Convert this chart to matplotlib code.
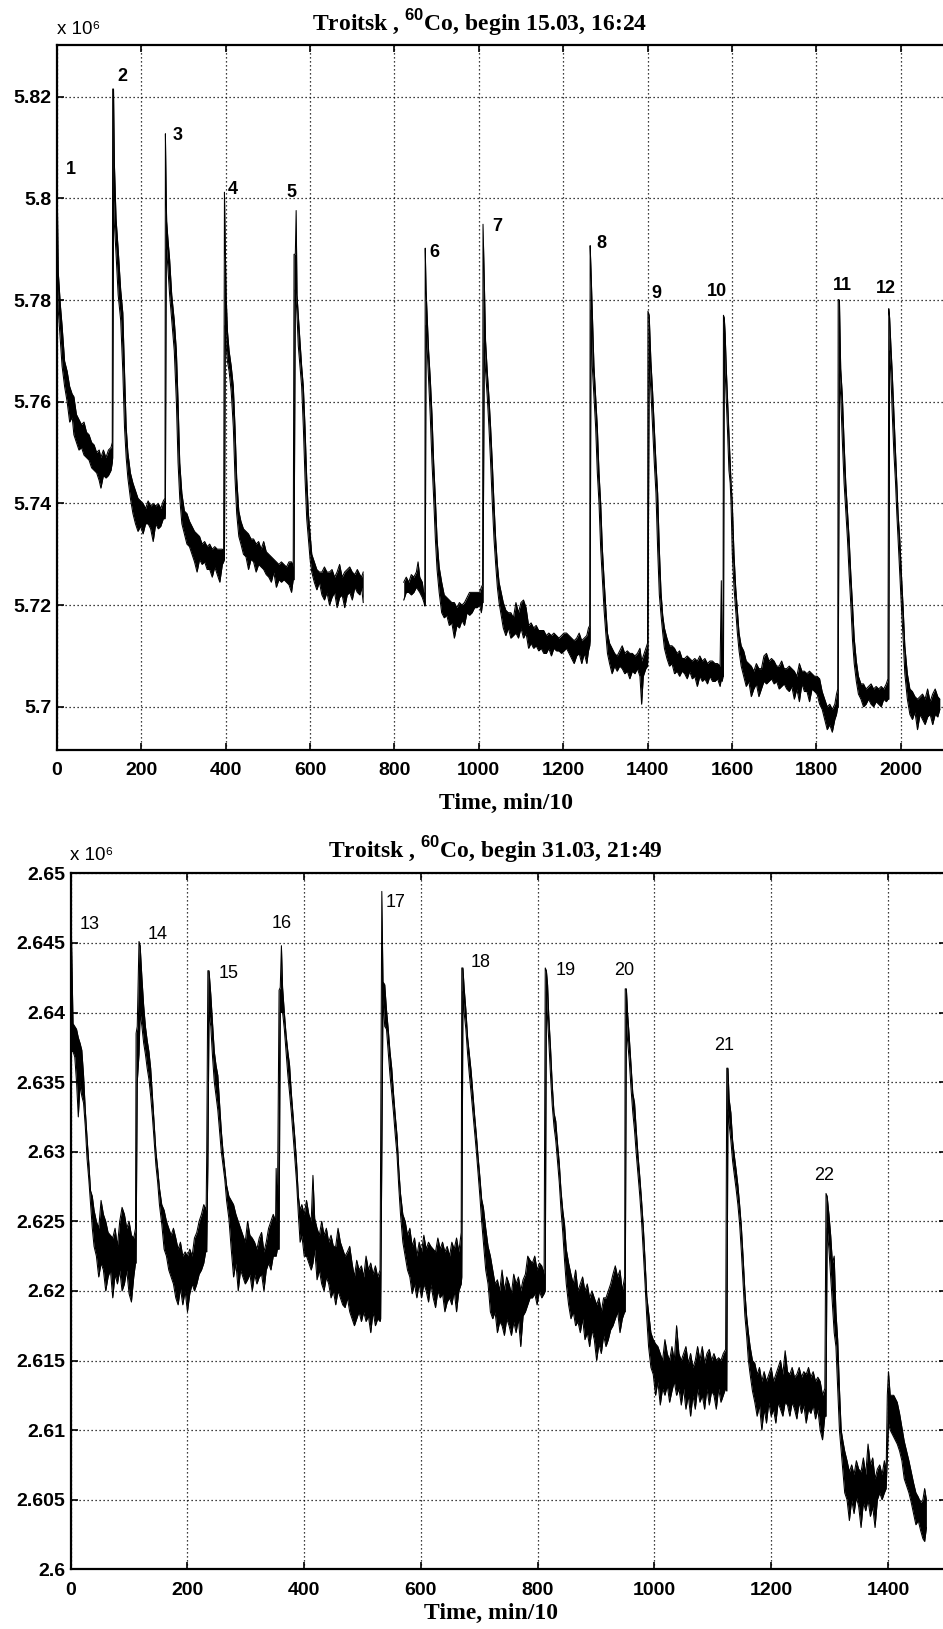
import numpy as np
import matplotlib
matplotlib.use("Agg")
import matplotlib.pyplot as plt

plt.rcParams["mathtext.fontset"] = "custom"
plt.rcParams["mathtext.rm"] = "Liberation Serif"
plt.rcParams["mathtext.bf"] = "Liberation Serif:bold"
plt.rcParams["mathtext.sf"] = "Liberation Sans:bold"

# ---------------- data (values in units of 10^6) ----------------
# each entry: (time, lower edge of noisy trace, upper edge of noisy trace)
top_trace_a = [
    (0, 5.785, 5.805), (3, 5.778, 5.7855), (8, 5.772, 5.779), (12, 5.767, 5.775),
    (18, 5.763, 5.768), (24, 5.760, 5.766), (30, 5.756, 5.763), (36, 5.757, 5.7615),
    (40, 5.7535, 5.761), (46, 5.752, 5.7575), (52, 5.7505, 5.7565), (58, 5.751, 5.7555),
    (64, 5.7495, 5.756), (70, 5.749, 5.754), (76, 5.7485, 5.7535), (82, 5.747, 5.752),
    (88, 5.7465, 5.7515), (94, 5.746, 5.750), (100, 5.7445, 5.7505), (104, 5.743, 5.749),
    (110, 5.7455, 5.7505), (116, 5.745, 5.749), (122, 5.7455, 5.7505), (128, 5.7465, 5.751),
    (131, 5.748, 5.752),
    (132, 5.749, 5.8215), (134, 5.800, 5.8215), (136, 5.795, 5.807), (140, 5.789, 5.796),
    (145, 5.781, 5.790), (151, 5.776, 5.782), (156, 5.766, 5.7775), (160, 5.755, 5.766),
    (164, 5.749, 5.755), (168, 5.745, 5.750), (174, 5.741, 5.746), (180, 5.738, 5.744),
    (186, 5.736, 5.7425), (192, 5.7345, 5.741), (198, 5.7355, 5.7405), (204, 5.734, 5.740),
    (210, 5.736, 5.739), (216, 5.736, 5.7405), (222, 5.735, 5.7395), (228, 5.7325, 5.740),
    (234, 5.736, 5.7395), (240, 5.735, 5.740), (246, 5.7355, 5.739), (252, 5.737, 5.7405),
    (256, 5.737, 5.741),
    (257, 5.738, 5.8127), (259, 5.790, 5.800), (260, 5.790, 5.7955), (263, 5.786, 5.792),
    (267, 5.781, 5.788), (272, 5.776, 5.781), (278, 5.770, 5.776), (283, 5.760, 5.770),
    (287, 5.748, 5.760), (291, 5.741, 5.748), (296, 5.736, 5.742), (302, 5.734, 5.7385),
    (308, 5.732, 5.738), (314, 5.7315, 5.7365), (320, 5.730, 5.7355), (326, 5.7285, 5.7345),
    (332, 5.7265, 5.734), (338, 5.729, 5.7335), (344, 5.728, 5.732), (350, 5.7285, 5.7325),
    (356, 5.727, 5.7315), (362, 5.727, 5.732), (368, 5.7255, 5.731), (374, 5.7275, 5.7315),
    (380, 5.726, 5.731), (386, 5.7245, 5.731), (392, 5.728, 5.731), (395, 5.7285, 5.7305),
    (397, 5.729, 5.8012), (399, 5.775, 5.790), (401, 5.771, 5.781), (404, 5.768, 5.774),
    (408, 5.766, 5.770), (413, 5.762, 5.767), (418, 5.755, 5.763), (422, 5.745, 5.755),
    (426, 5.738, 5.745), (431, 5.7335, 5.7385), (436, 5.732, 5.7365), (442, 5.730, 5.735),
    (448, 5.7295, 5.7345), (454, 5.727, 5.734), (460, 5.729, 5.733), (466, 5.7285, 5.733),
    (472, 5.7265, 5.732), (478, 5.728, 5.7325), (484, 5.7275, 5.731), (490, 5.727, 5.7325),
    (496, 5.726, 5.7305), (502, 5.7255, 5.730), (508, 5.7245, 5.7295), (514, 5.7265, 5.729),
    (520, 5.7235, 5.7285), (526, 5.725, 5.728), (532, 5.7245, 5.7285), (538, 5.725, 5.728),
    (544, 5.7245, 5.7275), (550, 5.724, 5.7285), (556, 5.7225, 5.7285), (560, 5.725, 5.7275),
    (562, 5.725, 5.789), (565, 5.782, 5.789), (567, 5.780, 5.7976), (569, 5.777, 5.781),
    (572, 5.771, 5.777), (576, 5.767, 5.772), (580, 5.763, 5.767), (584, 5.755, 5.763),
    (588, 5.745, 5.755), (592, 5.737, 5.745), (596, 5.733, 5.738), (600, 5.729, 5.734),
    (604, 5.7265, 5.730), (610, 5.7245, 5.7285), (616, 5.723, 5.727), (622, 5.7245, 5.7265),
    (628, 5.722, 5.7265), (634, 5.721, 5.7275), (640, 5.7225, 5.7265), (646, 5.720, 5.7265),
    (652, 5.7215, 5.727), (658, 5.7225, 5.7255), (664, 5.7195, 5.7265), (670, 5.7215, 5.728),
    (676, 5.722, 5.7255), (682, 5.7195, 5.7265), (688, 5.722, 5.727), (694, 5.7225, 5.7275),
    (700, 5.721, 5.7265), (706, 5.7235, 5.726), (712, 5.7225, 5.727), (718, 5.722, 5.726),
    (722, 5.7235, 5.7255), (726, 5.7205, 5.7265),
]

top_trace_b = [
    (822, 5.721, 5.7245), (828, 5.7225, 5.7255), (834, 5.7225, 5.7245), (840, 5.722, 5.726),
    (846, 5.7225, 5.7255), (852, 5.7235, 5.7265), (856, 5.723, 5.7285), (860, 5.7225, 5.7255),
    (866, 5.7215, 5.7245), (870, 5.7205, 5.722), (872, 5.7198, 5.7205),
    (873, 5.720, 5.7902), (875, 5.775, 5.782), (878, 5.7695, 5.776), (881, 5.764, 5.770),
    (885, 5.757, 5.7645), (889, 5.748, 5.7575), (893, 5.741, 5.748), (897, 5.733, 5.741),
    (901, 5.727, 5.733), (906, 5.7225, 5.7275), (912, 5.7185, 5.7245), (918, 5.7175, 5.722),
    (924, 5.718, 5.7215), (930, 5.716, 5.721), (936, 5.7165, 5.7205), (942, 5.7135, 5.7205),
    (948, 5.716, 5.7195), (954, 5.7155, 5.7205), (960, 5.717, 5.720), (966, 5.716, 5.7205),
    (972, 5.7185, 5.7215), (978, 5.718, 5.7225), (984, 5.7185, 5.7225), (990, 5.7195, 5.7225),
    (996, 5.7195, 5.7225), (1002, 5.720, 5.7225), (1006, 5.7185, 5.7235), (1009, 5.7205, 5.724),
    (1010, 5.7205, 5.7949), (1013, 5.7715, 5.784), (1016, 5.766, 5.772), (1020, 5.761, 5.766),
    (1024, 5.755, 5.761), (1028, 5.748, 5.755), (1032, 5.740, 5.748), (1036, 5.733, 5.740),
    (1040, 5.728, 5.733), (1044, 5.7235, 5.728), (1048, 5.7205, 5.7245), (1053, 5.718, 5.7225),
    (1058, 5.7155, 5.7205), (1064, 5.714, 5.719), (1070, 5.7155, 5.7185), (1076, 5.7135, 5.7185),
    (1082, 5.714, 5.7175), (1088, 5.7145, 5.7205), (1094, 5.7135, 5.7185), (1100, 5.7155, 5.7205),
    (1106, 5.7135, 5.721), (1112, 5.7145, 5.7195), (1118, 5.7115, 5.716), (1124, 5.7125, 5.7165),
    (1130, 5.7115, 5.7155), (1136, 5.712, 5.716), (1142, 5.711, 5.715), (1148, 5.7115, 5.715),
    (1154, 5.7105, 5.715), (1160, 5.7105, 5.714), (1166, 5.7115, 5.7145), (1172, 5.710, 5.714),
    (1178, 5.7115, 5.7145), (1184, 5.711, 5.714), (1190, 5.711, 5.7135), (1196, 5.7105, 5.714),
    (1202, 5.711, 5.7145), (1208, 5.7115, 5.7145), (1214, 5.7105, 5.714), (1220, 5.7095, 5.7135),
    (1226, 5.7085, 5.713), (1232, 5.710, 5.7135), (1238, 5.7105, 5.7145), (1244, 5.7085, 5.713),
    (1250, 5.7105, 5.7135), (1256, 5.7085, 5.714), (1260, 5.711, 5.7155), (1263, 5.712, 5.716),
    (1264, 5.713, 5.7907), (1266, 5.778, 5.786), (1269, 5.767, 5.778), (1273, 5.761, 5.767),
    (1277, 5.755, 5.761), (1281, 5.746, 5.755), (1285, 5.740, 5.746), (1289, 5.731, 5.740),
    (1293, 5.725, 5.731), (1297, 5.719, 5.725), (1301, 5.7145, 5.7195), (1305, 5.7105, 5.7145),
    (1310, 5.7085, 5.7125), (1316, 5.7065, 5.7115), (1322, 5.708, 5.7105), (1328, 5.707, 5.710),
    (1334, 5.708, 5.711), (1340, 5.7075, 5.712), (1346, 5.7065, 5.7105), (1352, 5.707, 5.711),
    (1358, 5.7055, 5.7105), (1364, 5.707, 5.7105), (1370, 5.7065, 5.710), (1376, 5.7075, 5.7105),
    (1382, 5.706, 5.7115), (1386, 5.7005, 5.709), (1390, 5.706, 5.710), (1396, 5.7075, 5.7115),
    (1400, 5.708, 5.7125),
    (1401, 5.710, 5.7778), (1404, 5.768, 5.777), (1408, 5.762, 5.768), (1412, 5.755, 5.762),
    (1416, 5.748, 5.755), (1420, 5.742, 5.748), (1424, 5.731, 5.742), (1428, 5.722, 5.731),
    (1432, 5.718, 5.7225), (1436, 5.7145, 5.718), (1440, 5.7115, 5.7155), (1446, 5.7095, 5.7135),
    (1452, 5.708, 5.712), (1458, 5.7085, 5.712), (1464, 5.7065, 5.7115), (1470, 5.707, 5.7105),
    (1476, 5.706, 5.711), (1482, 5.707, 5.7095), (1488, 5.7065, 5.7095), (1494, 5.7055, 5.710),
    (1500, 5.707, 5.7095), (1506, 5.7055, 5.709), (1512, 5.706, 5.7095), (1518, 5.704, 5.709),
    (1524, 5.706, 5.710), (1530, 5.705, 5.709), (1536, 5.7055, 5.7095), (1542, 5.7045, 5.7085),
    (1548, 5.706, 5.709), (1554, 5.705, 5.709), (1560, 5.705, 5.7085), (1566, 5.7055, 5.7085),
    (1572, 5.704, 5.708), (1575, 5.7055, 5.7248), (1577, 5.705, 5.7075), (1579, 5.706, 5.708),
    (1580, 5.706, 5.777), (1582, 5.7735, 5.7765), (1584, 5.766, 5.7735), (1587, 5.760, 5.766),
    (1590, 5.7535, 5.760), (1593, 5.7465, 5.7535), (1596, 5.744, 5.748), (1598, 5.740, 5.744),
    (1601, 5.730, 5.740), (1605, 5.7235, 5.730), (1609, 5.719, 5.7235), (1613, 5.7145, 5.719),
    (1617, 5.711, 5.7145), (1622, 5.708, 5.712), (1628, 5.706, 5.711), (1634, 5.704, 5.709),
    (1640, 5.705, 5.7085), (1646, 5.702, 5.708), (1652, 5.7035, 5.707), (1658, 5.7045, 5.7085),
    (1664, 5.702, 5.7075), (1670, 5.7035, 5.7075), (1676, 5.705, 5.710), (1682, 5.7045, 5.7105),
    (1688, 5.705, 5.709), (1694, 5.7055, 5.7095), (1700, 5.7045, 5.709), (1706, 5.705, 5.708),
    (1712, 5.7035, 5.708), (1718, 5.704, 5.709), (1724, 5.7045, 5.7075), (1730, 5.7035, 5.7075),
    (1736, 5.703, 5.708), (1742, 5.704, 5.7075), (1748, 5.7015, 5.707), (1754, 5.7035, 5.706),
    (1760, 5.701, 5.7085), (1766, 5.7045, 5.707), (1772, 5.703, 5.707), (1778, 5.703, 5.7065),
    (1784, 5.701, 5.707), (1790, 5.7035, 5.7065), (1796, 5.703, 5.706), (1802, 5.7025, 5.706),
    (1808, 5.7005, 5.7055), (1814, 5.6995, 5.703), (1820, 5.6975, 5.7015), (1826, 5.6955, 5.700),
    (1832, 5.6965, 5.7005), (1838, 5.695, 5.6995), (1844, 5.6975, 5.7005), (1848, 5.6985, 5.7025),
    (1851, 5.700, 5.7035),
    (1852, 5.700, 5.7801), (1855, 5.7655, 5.780), (1858, 5.761, 5.7665), (1862, 5.752, 5.761),
    (1866, 5.744, 5.752), (1870, 5.7385, 5.744), (1874, 5.733, 5.7385), (1878, 5.726, 5.733),
    (1882, 5.720, 5.726), (1886, 5.713, 5.720), (1890, 5.7085, 5.7135), (1895, 5.705, 5.709),
    (1900, 5.7025, 5.706), (1906, 5.7015, 5.7045), (1912, 5.700, 5.7045), (1918, 5.7005, 5.7035),
    (1924, 5.7015, 5.704), (1930, 5.7005, 5.7045), (1936, 5.700, 5.7035), (1942, 5.701, 5.704),
    (1948, 5.7005, 5.7035), (1954, 5.700, 5.704), (1960, 5.7015, 5.7035), (1966, 5.701, 5.7045),
    (1970, 5.7015, 5.7055),
    (1972, 5.7015, 5.7783), (1974, 5.770, 5.7765), (1977, 5.7655, 5.771), (1980, 5.758, 5.766),
    (1984, 5.750, 5.758), (1988, 5.744, 5.750), (1991, 5.738, 5.744), (1994, 5.733, 5.738),
    (1998, 5.726, 5.733), (2002, 5.7195, 5.726), (2006, 5.7135, 5.7195), (2010, 5.7065, 5.712),
    (2016, 5.7015, 5.7065), (2022, 5.6985, 5.7035), (2028, 5.6975, 5.703), (2034, 5.699, 5.702),
    (2040, 5.6955, 5.7015), (2046, 5.6985, 5.702), (2052, 5.6975, 5.7025), (2058, 5.6965, 5.7015),
    (2064, 5.698, 5.7035), (2070, 5.6985, 5.701), (2076, 5.6965, 5.7025), (2082, 5.6985, 5.7035),
    (2088, 5.698, 5.702), (2093, 5.6995, 5.7015),
]

bottom_trace = [
    (0, 2.6355, 2.6462), (1, 2.6372, 2.6462), (4, 2.6372, 2.6392), (7, 2.6368, 2.6390),
    (10, 2.6350, 2.6388), (13, 2.6325, 2.6382), (16, 2.6348, 2.6378), (19, 2.6340, 2.6373),
    (22, 2.6335, 2.6355), (25, 2.6318, 2.6330), (28, 2.6295, 2.6310), (31, 2.6280, 2.6292),
    (34, 2.6262, 2.6272), (37, 2.6245, 2.6268), (40, 2.6232, 2.6258), (44, 2.6225, 2.6250),
    (48, 2.6210, 2.6245), (52, 2.6220, 2.6265), (56, 2.6215, 2.6255), (60, 2.6200, 2.6250),
    (64, 2.6210, 2.6242), (68, 2.6215, 2.6240), (72, 2.6195, 2.6238), (76, 2.6212, 2.6245),
    (80, 2.6205, 2.6232), (84, 2.6215, 2.6250), (88, 2.6200, 2.6260), (92, 2.6205, 2.6255),
    (96, 2.6215, 2.6245), (100, 2.6198, 2.6250), (104, 2.6192, 2.6240), (108, 2.6210, 2.6238),
    (111, 2.6220, 2.6245),
    (112, 2.6220, 2.6385), (114, 2.6350, 2.6390), (117, 2.6370, 2.6451), (119, 2.6400, 2.6448),
    (122, 2.6390, 2.6425), (125, 2.6378, 2.6405), (128, 2.6370, 2.6390), (131, 2.6360, 2.6380),
    (134, 2.6352, 2.6372), (137, 2.6340, 2.6360), (140, 2.6325, 2.6340), (143, 2.6308, 2.6320),
    (146, 2.6290, 2.6300), (149, 2.6278, 2.6288), (152, 2.6262, 2.6274), (156, 2.6248, 2.6262),
    (160, 2.6230, 2.6258), (164, 2.6225, 2.6250), (168, 2.6215, 2.6245), (172, 2.6210, 2.6240),
    (176, 2.6205, 2.6245), (180, 2.6195, 2.6238), (184, 2.6190, 2.6230), (188, 2.6202, 2.6235),
    (192, 2.6190, 2.6225), (196, 2.6200, 2.6228), (200, 2.6185, 2.6225), (204, 2.6198, 2.6230),
    (208, 2.6205, 2.6225), (212, 2.6200, 2.6238), (216, 2.6205, 2.6242), (220, 2.6212, 2.6250),
    (224, 2.6215, 2.6255), (228, 2.6220, 2.6262), (232, 2.6230, 2.6258),
    (233, 2.6228, 2.6297), (235, 2.6290, 2.6430), (237, 2.6400, 2.6430), (240, 2.6390, 2.6413),
    (243, 2.6368, 2.6392), (246, 2.6350, 2.6372), (249, 2.6340, 2.6362), (252, 2.6330, 2.6355),
    (255, 2.6315, 2.6335), (258, 2.6300, 2.6315), (261, 2.6290, 2.6300), (264, 2.6280, 2.6288),
    (267, 2.6265, 2.6276), (271, 2.6252, 2.6268), (275, 2.6230, 2.6265), (279, 2.6210, 2.6262),
    (283, 2.6220, 2.6255), (287, 2.6200, 2.6250), (291, 2.6215, 2.6245), (295, 2.6210, 2.6240),
    (299, 2.6205, 2.6235), (303, 2.6208, 2.6250), (307, 2.6212, 2.6240), (311, 2.6200, 2.6238),
    (315, 2.6212, 2.6235), (319, 2.6205, 2.6230), (323, 2.6210, 2.6238), (327, 2.6212, 2.6242),
    (331, 2.6200, 2.6228), (335, 2.6215, 2.6235), (339, 2.6220, 2.6245), (343, 2.6215, 2.6250),
    (347, 2.6225, 2.6255), (351, 2.6225, 2.6250),
    (352, 2.6225, 2.6288), (354, 2.6230, 2.6250), (357, 2.6230, 2.6416), (359, 2.6400, 2.6418),
    (361, 2.6400, 2.6448), (363, 2.6400, 2.6418), (366, 2.6388, 2.6400), (369, 2.6372, 2.6384),
    (372, 2.6355, 2.6372), (375, 2.6342, 2.6362), (378, 2.6328, 2.6342), (381, 2.6312, 2.6326),
    (384, 2.6295, 2.6310), (387, 2.6278, 2.6292), (390, 2.6255, 2.6268), (393, 2.6235, 2.6258),
    (396, 2.6240, 2.6262), (400, 2.6225, 2.6255), (404, 2.6225, 2.6265), (408, 2.6220, 2.6255),
    (412, 2.6215, 2.6250), (415, 2.6220, 2.6283), (418, 2.6230, 2.6252), (422, 2.6208, 2.6245),
    (426, 2.6215, 2.6240), (430, 2.6205, 2.6250), (434, 2.6200, 2.6240), (438, 2.6210, 2.6245),
    (442, 2.6205, 2.6235), (446, 2.6195, 2.6240), (450, 2.6200, 2.6232), (454, 2.6190, 2.6232),
    (458, 2.6200, 2.6245), (462, 2.6195, 2.6235), (466, 2.6190, 2.6230), (470, 2.6188, 2.6225),
    (474, 2.6195, 2.6228), (478, 2.6185, 2.6232), (482, 2.6180, 2.6220), (486, 2.6175, 2.6210),
    (490, 2.6180, 2.6222), (494, 2.6185, 2.6215), (498, 2.6178, 2.6218), (502, 2.6185, 2.6210),
    (506, 2.6178, 2.6225), (510, 2.6182, 2.6215), (514, 2.6170, 2.6220), (518, 2.6185, 2.6212),
    (522, 2.6175, 2.6218), (526, 2.6180, 2.6210), (530, 2.6178, 2.6215),
    (531, 2.6180, 2.6301), (533, 2.6295, 2.6487), (535, 2.6410, 2.6422), (538, 2.6390, 2.6420),
    (541, 2.6388, 2.6402), (544, 2.6372, 2.6388), (547, 2.6355, 2.6372), (550, 2.6342, 2.6360),
    (553, 2.6328, 2.6342), (556, 2.6312, 2.6326), (559, 2.6298, 2.6312), (562, 2.6275, 2.6288),
    (565, 2.6255, 2.6270), (569, 2.6235, 2.6255), (573, 2.6225, 2.6250), (577, 2.6215, 2.6240),
    (581, 2.6210, 2.6245), (585, 2.6198, 2.6232), (589, 2.6205, 2.6238), (593, 2.6195, 2.6225),
    (597, 2.6205, 2.6235), (601, 2.6195, 2.6228), (605, 2.6205, 2.6240), (609, 2.6200, 2.6230),
    (613, 2.6192, 2.6235), (617, 2.6205, 2.6232), (621, 2.6195, 2.6230), (625, 2.6188, 2.6228),
    (629, 2.6200, 2.6238), (633, 2.6195, 2.6230), (637, 2.6198, 2.6235), (641, 2.6185, 2.6228),
    (645, 2.6192, 2.6232), (649, 2.6195, 2.6225), (653, 2.6190, 2.6235), (657, 2.6200, 2.6230),
    (661, 2.6185, 2.6238), (665, 2.6200, 2.6228), (669, 2.6205, 2.6242),
    (670, 2.6210, 2.6432), (672, 2.6415, 2.6432), (674, 2.6400, 2.6418), (677, 2.6388, 2.6402),
    (680, 2.6370, 2.6382), (683, 2.6355, 2.6370), (686, 2.6342, 2.6358), (689, 2.6328, 2.6342),
    (692, 2.6314, 2.6326), (695, 2.6300, 2.6312), (698, 2.6284, 2.6296), (701, 2.6268, 2.6282),
    (704, 2.6250, 2.6266), (707, 2.6235, 2.6260), (711, 2.6215, 2.6245), (715, 2.6205, 2.6232),
    (719, 2.6185, 2.6225), (723, 2.6180, 2.6215), (727, 2.6185, 2.6205), (731, 2.6170, 2.6208),
    (735, 2.6178, 2.6200), (739, 2.6175, 2.6215), (743, 2.6168, 2.6200), (747, 2.6180, 2.6210),
    (751, 2.6175, 2.6205), (755, 2.6168, 2.6198), (759, 2.6178, 2.6212), (763, 2.6170, 2.6205),
    (767, 2.6180, 2.6210), (771, 2.6160, 2.6200), (775, 2.6182, 2.6208), (779, 2.6185, 2.6212),
    (783, 2.6190, 2.6225), (787, 2.6195, 2.6222), (791, 2.6195, 2.6220), (795, 2.6198, 2.6225),
    (799, 2.6190, 2.6215), (803, 2.6200, 2.6220), (807, 2.6195, 2.6218), (811, 2.6198, 2.6212),
    (813, 2.6200, 2.6432), (815, 2.6415, 2.6430), (817, 2.6395, 2.6420), (819, 2.6380, 2.6398),
    (822, 2.6355, 2.6375), (825, 2.6333, 2.6348), (828, 2.6318, 2.6328), (831, 2.6308, 2.6322),
    (834, 2.6293, 2.6306), (837, 2.6278, 2.6292), (840, 2.6258, 2.6272), (843, 2.6242, 2.6258),
    (846, 2.6222, 2.6248), (849, 2.6205, 2.6230), (853, 2.6190, 2.6220), (857, 2.6180, 2.6212),
    (861, 2.6185, 2.6205), (865, 2.6175, 2.6215), (869, 2.6178, 2.6200), (873, 2.6170, 2.6205),
    (877, 2.6180, 2.6210), (881, 2.6165, 2.6200), (885, 2.6170, 2.6205), (889, 2.6160, 2.6195),
    (893, 2.6172, 2.6200), (897, 2.6165, 2.6195), (901, 2.6150, 2.6190), (905, 2.6162, 2.6195),
    (909, 2.6155, 2.6185), (913, 2.6168, 2.6195), (917, 2.6160, 2.6195), (921, 2.6165, 2.6200),
    (925, 2.6172, 2.6205), (929, 2.6175, 2.6212), (933, 2.6180, 2.6218), (937, 2.6185, 2.6210),
    (941, 2.6170, 2.6215), (945, 2.6180, 2.6200), (949, 2.6185, 2.6210),
    (950, 2.6185, 2.6417), (952, 2.6395, 2.6417), (954, 2.6380, 2.6400), (957, 2.6365, 2.6382),
    (960, 2.6345, 2.6362), (963, 2.6328, 2.6342), (966, 2.6315, 2.6335), (969, 2.6298, 2.6315),
    (972, 2.6283, 2.6297), (975, 2.6268, 2.6282), (978, 2.6250, 2.6265), (981, 2.6228, 2.6246),
    (984, 2.6205, 2.6222), (987, 2.6180, 2.6196), (990, 2.6160, 2.6185), (994, 2.6145, 2.6170),
    (998, 2.6140, 2.6165), (1002, 2.6125, 2.6162), (1006, 2.6135, 2.6160), (1010, 2.6118, 2.6155),
    (1014, 2.6130, 2.6150), (1018, 2.6125, 2.6165), (1022, 2.6132, 2.6155), (1026, 2.6120, 2.6150),
    (1030, 2.6128, 2.6160), (1034, 2.6135, 2.6150), (1038, 2.6125, 2.6175), (1042, 2.6130, 2.6155),
    (1046, 2.6118, 2.6150), (1050, 2.6130, 2.6155), (1054, 2.6115, 2.6160), (1058, 2.6125, 2.6148),
    (1062, 2.6110, 2.6155), (1066, 2.6125, 2.6145), (1070, 2.6115, 2.6150), (1074, 2.6130, 2.6160),
    (1078, 2.6120, 2.6150), (1082, 2.6125, 2.6160), (1086, 2.6115, 2.6148), (1090, 2.6130, 2.6155),
    (1094, 2.6118, 2.6158), (1098, 2.6128, 2.6150), (1102, 2.6125, 2.6155), (1106, 2.6115, 2.6150),
    (1110, 2.6130, 2.6152), (1114, 2.6120, 2.6150), (1118, 2.6125, 2.6155), (1122, 2.6130, 2.6158),
    (1124, 2.6128, 2.6360), (1126, 2.6330, 2.6360), (1128, 2.6320, 2.6338), (1131, 2.6308, 2.6328),
    (1134, 2.6293, 2.6308), (1137, 2.6283, 2.6297), (1140, 2.6273, 2.6287), (1143, 2.6262, 2.6276),
    (1146, 2.6248, 2.6262), (1149, 2.6228, 2.6246), (1152, 2.6205, 2.6224), (1155, 2.6182, 2.6200),
    (1158, 2.6168, 2.6182), (1161, 2.6150, 2.6170), (1164, 2.6140, 2.6160), (1168, 2.6128, 2.6150),
    (1172, 2.6120, 2.6148), (1176, 2.6110, 2.6140), (1180, 2.6118, 2.6145), (1184, 2.6100, 2.6135),
    (1188, 2.6115, 2.6142), (1192, 2.6105, 2.6135), (1196, 2.6120, 2.6140), (1200, 2.6110, 2.6145),
    (1204, 2.6115, 2.6135), (1208, 2.6105, 2.6140), (1212, 2.6120, 2.6145), (1216, 2.6115, 2.6150),
    (1220, 2.6110, 2.6140), (1224, 2.6120, 2.6157), (1228, 2.6118, 2.6142), (1232, 2.6110, 2.6140),
    (1236, 2.6120, 2.6145), (1240, 2.6115, 2.6138), (1244, 2.6108, 2.6140), (1248, 2.6120, 2.6145),
    (1252, 2.6112, 2.6138), (1256, 2.6118, 2.6142), (1260, 2.6105, 2.6140), (1264, 2.6115, 2.6145),
    (1268, 2.6112, 2.6138), (1272, 2.6118, 2.6142), (1276, 2.6108, 2.6135), (1280, 2.6115, 2.6138),
    (1284, 2.6100, 2.6135), (1288, 2.6093, 2.6125), (1292, 2.6110, 2.6130),
    (1294, 2.6110, 2.6270), (1296, 2.6245, 2.6268), (1299, 2.6230, 2.6255), (1302, 2.6210, 2.6240),
    (1305, 2.6190, 2.6220), (1308, 2.6170, 2.6225), (1311, 2.6160, 2.6185), (1314, 2.6130, 2.6165),
    (1317, 2.6100, 2.6130), (1320, 2.6085, 2.6100), (1323, 2.6070, 2.6092), (1326, 2.6055, 2.6085),
    (1330, 2.6050, 2.6078), (1334, 2.6035, 2.6070), (1338, 2.6050, 2.6075), (1342, 2.6040, 2.6068),
    (1346, 2.6052, 2.6078), (1350, 2.6045, 2.6072), (1354, 2.6030, 2.6070), (1358, 2.6048, 2.6080),
    (1362, 2.6042, 2.6068), (1366, 2.6050, 2.6090), (1370, 2.6038, 2.6075), (1374, 2.6045, 2.6080),
    (1378, 2.6030, 2.6065), (1382, 2.6050, 2.6072), (1386, 2.6055, 2.6075), (1390, 2.6050, 2.6068),
    (1394, 2.6055, 2.6078), (1397, 2.6058, 2.6070),
    (1399, 2.6080, 2.6125), (1401, 2.6105, 2.6142), (1404, 2.6100, 2.6125), (1410, 2.6095, 2.6125),
    (1416, 2.6090, 2.6120), (1420, 2.6085, 2.6112), (1424, 2.6078, 2.6102), (1428, 2.6065, 2.6092),
    (1432, 2.6060, 2.6085), (1436, 2.6055, 2.6078), (1440, 2.6048, 2.6070), (1444, 2.6040, 2.6062),
    (1448, 2.6032, 2.6055), (1452, 2.6035, 2.6052), (1456, 2.6028, 2.6048), (1460, 2.6022, 2.6050),
    (1463, 2.6020, 2.6058), (1466, 2.6030, 2.6050),
]

top_labels = ["1", "2", "3", "4", "5", "6", "7", "8", "9", "10", "11", "12"]
top_label_x = [21, 142, 275, 405, 545, 882, 1032, 1278, 1410, 1540, 1839, 1942]
top_label_y = [5.8056, 5.824, 5.8123, 5.8017, 5.8011, 5.7893, 5.7945, 5.7911, 5.7813, 5.7817, 5.7829, 5.7822]

bottom_labels = ["13", "14", "15", "16", "17", "18", "19", "20", "21", "22"]
bottom_label_x = [16, 132, 254, 344, 540, 686, 830, 931, 1103, 1273]
bottom_label_y = [2.6463, 2.6456, 2.6428, 2.6464, 2.6479, 2.6436, 2.643, 2.643, 2.6376, 2.6283]

top_yticks = [5.70, 5.72, 5.74, 5.76, 5.78, 5.80, 5.82]
top_yticklabels = ["5.7", "5.72", "5.74", "5.76", "5.78", "5.8", "5.82"]
top_xticks = [0, 200, 400, 600, 800, 1000, 1200, 1400, 1600, 1800, 2000]
bottom_yticks = [2.600, 2.605, 2.610, 2.615, 2.620, 2.625, 2.630, 2.635, 2.640, 2.645, 2.650]
bottom_yticklabels = ["2.6", "2.605", "2.61", "2.615", "2.62", "2.625", "2.63", "2.635", "2.64", "2.645", "2.65"]
bottom_xticks = [0, 200, 400, 600, 800, 1000, 1200, 1400]

top_title = r"Troitsk , $^{\mathsf{60}}$Co, begin 15.03, 16:24"
bottom_title = r"Troitsk , $^{\mathsf{60}}$Co, begin 31.03, 21:49"
x_label = "Time, min/10"
scale_label = "x 10\u2076"

# ---------------- figure ----------------
W, H = 943, 1629
fig = plt.figure(figsize=(W / 100, H / 100), dpi=100)

SANS = ["Liberation Sans", "DejaVu Sans"]
SERIF = ["Liberation Serif", "DejaVu Serif"]


def fx(px):
    return px / W


def fy(py):
    return 1 - py / H


def draw_trace(ax, trace):
    x, lo, hi = (np.array(v, dtype=float) for v in zip(*trace))
    ax.fill_between(x, lo, hi, color="black", lw=0, zorder=3)
    ax.plot(x, lo, color="black", lw=0.75, zorder=3)
    ax.plot(x, hi, color="black", lw=0.75, zorder=3)


def style_axes(ax):
    ax.grid(True, color="black", linestyle=(0, (1, 2.2)), linewidth=0.9)
    ax.set_axisbelow(True)
    ax.tick_params(direction="in", top=True, right=True, length=5, width=1.2,
                   labelsize=14, pad=4)
    ax.tick_params(axis="x", pad=9)
    for s in ax.spines.values():
        s.set_linewidth(1.6)
    for lab in ax.get_xticklabels() + ax.get_yticklabels():
        lab.set_family(SANS)
        lab.set_weight("bold")


# top panel: left 57 px, top 45 px, bottom 750 px; 0.4218 px per time unit
ax1 = fig.add_axes([fx(57), fy(750), fx(2120 * 0.4218), (750 - 45.3) / H])
ax1.set_xlim(0, 2120)
ax1.set_ylim(5.6915, 5.8301)
draw_trace(ax1, top_trace_a)
draw_trace(ax1, top_trace_b)
ax1.set_xticks(top_xticks)
ax1.set_xticklabels([str(t) for t in top_xticks])
ax1.set_yticks(top_yticks)
ax1.set_yticklabels(top_yticklabels)
style_axes(ax1)
for t, x, y in zip(top_labels, top_label_x, top_label_y):
    ax1.text(x, y, t, fontsize=13, fontweight="bold", family=SANS,
             ha="left", va="center", zorder=5)

# bottom panel: left 70.7 px, top 873.3 px, bottom 1569.3 px; 0.5837 px per time unit
ax2 = fig.add_axes([fx(70.7), fy(1569.3), fx(1500 * 0.5837), (1569.3 - 873.3) / H])
ax2.set_xlim(0, 1500)
ax2.set_ylim(2.600, 2.650)
draw_trace(ax2, bottom_trace)
ax2.set_xticks(bottom_xticks)
ax2.set_xticklabels([str(t) for t in bottom_xticks])
ax2.set_yticks(bottom_yticks)
ax2.set_yticklabels(bottom_yticklabels)
style_axes(ax2)
for t, x, y in zip(bottom_labels, bottom_label_x, bottom_label_y):
    ax2.text(x, y, t, fontsize=13, family=SANS, ha="left", va="center", zorder=5)

# titles, axis labels, scale factors
fig.text(fx(480), fy(23), top_title, family=SERIF, fontsize=17, fontweight="bold",
         ha="center", va="center")
fig.text(fx(495), fy(850), bottom_title, family=SERIF, fontsize=17, fontweight="bold",
         ha="center", va="center")
fig.text(fx(506), fy(803), x_label, family=SERIF, fontsize=17, fontweight="bold",
         ha="center", va="center")
fig.text(fx(491), fy(1613), x_label, family=SERIF, fontsize=17, fontweight="bold",
         ha="center", va="center")
fig.text(fx(57), fy(29), scale_label, family=SANS, fontsize=13.5, ha="left", va="center")
fig.text(fx(70), fy(856), scale_label, family=SANS, fontsize=13.5, ha="left", va="center")

fig.savefig("out.png", dpi=100, facecolor="white")
